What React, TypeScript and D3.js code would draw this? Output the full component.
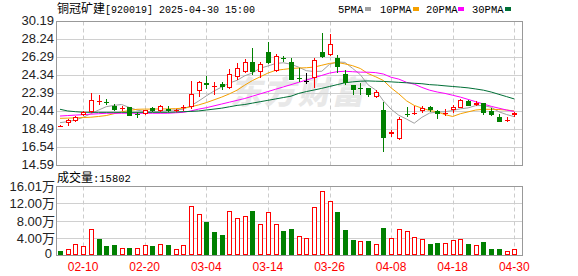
import React from 'react';
import * as d3 from 'd3';

const dates = [
  '02-05','02-06','02-07','02-10','02-11','02-12','02-13','02-14','02-17','02-18',
  '02-19','02-20','02-21','02-24','02-25','02-26','02-27','02-28','03-03','03-04',
  '03-05','03-06','03-07','03-10','03-11','03-12','03-13','03-14','03-17','03-18',
  '03-19','03-20','03-21','03-24','03-25','03-26','03-27','03-28','03-31','04-01',
  '04-02','04-03','04-07','04-08','04-09','04-10','04-11','04-14','04-15','04-16',
  '04-17','04-18','04-21','04-22','04-23','04-24','04-25','04-28','04-29','04-30',
];
const openP = [
  18.8,19.16,19.45,20.02,20.42,21.58,21.5,21.0,20.68,20.9,
  20.2,20.2,20.8,20.45,20.75,20.5,20.8,20.95,22.7,23.5,
  23.12,23.4,22.95,24.2,24.75,25.75,24.75,26.9,24.85,26.25,
  25.8,24.05,23.75,24.05,26.9,26.55,26.2,24.5,23.3,23.0,
  22.95,22.05,20.6,18.0,17.5,20.2,20.15,20.45,20.9,20.5,
  20.22,20.6,20.85,21.6,21.1,21.35,20.45,19.8,19.42,20.05,
];
const highP = [
  18.95,19.6,19.95,20.5,22.45,22.2,21.76,21.25,21.0,20.95,
  20.4,20.6,20.95,21.1,21.0,20.7,21.1,23.75,23.75,24.3,
  23.6,23.6,25.05,25.65,26.1,27.3,25.8,28.0,26.65,26.45,
  26.2,25.1,24.6,26.2,28.9,28.85,26.6,24.95,23.35,23.55,
  23.0,22.75,21.45,18.45,19.85,20.95,21.0,21.0,21.0,20.6,
  20.7,21.1,21.75,21.65,21.55,21.4,20.8,20.2,19.8,20.4,
];
const lowP = [
  18.78,18.87,19.33,19.95,20.3,21.1,21.14,20.5,20.5,19.9,
  19.7,20.1,20.4,20.4,20.4,20.4,20.5,20.75,22.05,22.9,
  22.2,22.75,22.85,23.85,24.6,24.4,24.05,25.55,24.75,25.85,
  23.85,23.65,23.4,22.95,26.2,26.45,24.6,23.3,22.2,22.2,
  22.05,21.9,16.0,17.65,17.35,19.85,20.1,20.3,20.4,19.6,
  19.95,20.25,20.8,21.0,21.0,20.1,20.0,19.25,19.25,19.85,
];
const closeP = [
  18.92,19.52,19.81,20.38,21.65,21.63,21.42,20.62,20.85,20.0,
  20.15,20.55,20.45,21.05,20.5,20.55,20.9,22.3,23.6,23.3,
  23.2,23.05,24.45,25.1,25.75,24.75,25.6,25.65,26.45,26.15,
  23.9,24.0,23.75,26.0,26.3,27.7,25.3,23.5,22.75,22.9,
  22.2,22.5,17.6,18.25,19.6,20.15,20.25,20.8,20.55,20.15,
  20.3,20.95,21.7,21.05,21.4,20.3,20.05,19.25,19.5,20.3,
];
// volume in 万
const volume = [
  1.0,1.6,2.7,2.1,6.1,3.75,2.1,2.35,1.8,1.65,
  1.65,2.5,2.1,2.7,2.35,1.55,2.5,11.4,9.6,7.7,
  5.4,4.7,10.3,8.8,9.1,10.3,7.4,10.0,7.4,5.6,
  6.1,4.45,4.15,11.2,15.0,12.6,10.1,5.85,3.5,3.3,
  3.3,2.75,6.3,4.15,6.25,5.8,4.4,3.9,2.6,2.8,
  3.0,3.7,3.9,2.6,2.5,3.05,1.4,1.4,1.1,1.58,
];
// 1 = red (up), 0 = green (down)
const volumeUp = [
  0,1,1,1,1,0,0,0,1,0,
  1,1,0,1,0,1,1,1,1,0,
  0,0,1,1,1,0,1,1,1,0,
  0,1,1,1,1,1,0,0,0,1,
  0,1,0,1,1,1,1,1,0,0,
  1,1,1,0,1,0,0,0,1,1,
];
const ma5 = [
  19.23,19.34,19.52,19.81,20.2,20.59,20.96,21.1,21.2,20.88,
  20.6,20.43,20.4,20.44,20.54,20.62,20.69,21.06,21.57,22.13,
  22.66,23.09,23.52,23.82,24.31,24.62,25.13,25.37,25.64,25.72,
  25.56,25.24,24.86,24.77,24.8,25.55,25.81,25.76,25.11,24.43,
  23.33,22.77,21.59,20.69,20.03,19.62,19.17,19.81,20.27,20.38,
  20.41,20.55,20.73,20.83,21.08,21.08,20.9,20.41,20.11,19.88,
];
const ma10 = [
  19.7,19.72,19.75,19.78,19.82,19.9,20.0,20.2,20.4,20.55,
  20.68,20.7,20.7,20.72,20.72,20.75,20.8,20.95,21.15,21.4,
  21.7,22.0,22.35,22.75,23.3,23.8,24.2,24.6,24.9,25.0,
  25.1,25.15,25.18,25.25,25.45,25.65,25.75,25.6,25.4,25.1,
  24.55,24.2,23.8,23.0,22.35,21.6,21.1,20.8,20.55,20.4,
  20.1,19.9,20.2,20.4,20.6,20.68,20.68,20.65,20.6,20.5,
];
const ma20 = [
  19.95,20.0,20.05,20.1,20.15,20.2,20.25,20.25,20.25,20.25,
  20.25,20.25,20.25,20.25,20.25,20.3,20.35,20.5,20.7,20.85,
  21.05,21.25,21.45,21.65,21.85,22.1,22.35,22.6,22.85,23.1,
  23.35,23.6,23.85,24.1,24.35,24.6,24.75,24.8,24.75,24.7,
  24.7,24.65,24.5,24.15,23.95,23.6,23.4,23.05,22.75,22.55,
  22.4,22.2,22.0,21.75,21.5,21.25,21.0,20.8,20.6,20.45,
];
const ma30 = [
  20.68,20.5,20.42,20.36,20.35,20.35,20.35,20.35,20.35,20.35,
  20.35,20.35,20.35,20.35,20.35,20.38,20.42,20.45,20.5,20.6,
  20.7,20.8,20.95,21.1,21.2,21.35,21.5,21.65,21.8,21.95,
  22.1,22.4,22.6,22.77,22.95,23.15,23.35,23.55,23.65,23.72,
  23.75,23.72,23.7,23.65,23.6,23.55,23.5,23.45,23.35,23.3,
  23.22,23.15,23.08,23.0,22.88,22.75,22.55,22.3,22.05,21.8,
];
const priceTicks = [30.19, 28.24, 26.29, 24.34, 22.39, 20.44, 18.49, 16.54, 14.59];
const volumeTicks = [0, 4, 8, 12, 16.01];
const volumeTickLabels = ['0', '4.00万', '8.00万', '12.00万', '16.01万'];
const xLabelDates = ['02-10', '02-20', '03-04', '03-14', '03-26', '04-08', '04-18', '04-30'];
const legendNames = ['5PMA', '10PMA', '20PMA', '30PMA'];
const stockName = '铜冠矿建';
const stockInfo = '[920019] 2025-04-30 15:00';
const lastVolume = '15802';

const RED = '#ff0000';
const GREEN = '#008000';
const MA_COLORS = ['#a0a0a0', '#f5a000', '#ff00ff', '#006f36'];
const MONO = '"Liberation Mono", monospace';
const SANS = '"Liberation Sans", "Noto Sans CJK SC", sans-serif';
const CJK = '"Noto Sans CJK SC", sans-serif';

export default function App() {
  const L = 56.5, R = 522.5;
  const pTop = 21.5, pBot = 165.5, vTop = 186.5, vBot = 255.5;
  const x = d3.scaleLinear().domain([0, dates.length - 1]).range([60, 514.3]);
  const yP = d3.scaleLinear().domain([14.59, 30.19]).range([pBot, pTop]);
  const yV = d3.scaleLinear().domain([0, 16.01]).range([vBot, vTop]);
  const crisp = (v: number) => Math.round(v - 0.5) + 0.5;

  const maSeries = [ma5, ma10, ma20, ma30];
  const line = d3.line<number>().x((_, i) => x(i)).y((v) => yP(v));

  const gridXs = xLabelDates.map((d) => Math.round(x(dates.indexOf(d))) + 0.5);

  const legendX = [338, 380, 426, 472];
  const legendMarkX = [365, 413, 458, 505];

  return (
    <svg width={578} height={276} style={{ position: 'absolute', left: 0, top: 0, background: '#fff' }}>
      <rect x={0} y={0} width={578} height={276} fill="#fff" />
      {/* title */}
      <text x={57} y={13} fill="#000">
        <tspan fontFamily={CJK} fontSize={12}>{stockName}</tspan>
        <tspan fontFamily={MONO} fontSize={10}>{stockInfo}</tspan>
      </text>
      {legendNames.map((n, k) => (
        <g key={n}>
          <text x={legendX[k]} y={13} fontFamily={MONO} fontSize={10.5} fill="#000">{n}</text>
          <rect x={legendMarkX[k]} y={7} width={6} height={4} fill={MA_COLORS[k]} />
        </g>
      ))}

      {/* watermark */}
      <text x={232} y={104} fontFamily={CJK} fontSize={32} fontWeight={900} fill="#e8e8e8"
        transform="skewX(-12) translate(20,0)" letterSpacing={2}>东方财富</text>

      {/* price grid */}
      {priceTicks.map((t) => (
        <line key={'pg' + t} x1={L} x2={R} y1={crisp(yP(t))} y2={crisp(yP(t))} stroke="#d0d0d0" />
      ))}
      {gridXs.map((gx) => (
        <line key={'pv' + gx} x1={gx} x2={gx} y1={pTop} y2={pBot} stroke="#cccccc" strokeDasharray="4,3" />
      ))}
      {/* volume grid */}
      {volumeTicks.slice(1, 4).map((t) => (
        <line key={'vg' + t} x1={L} x2={R} y1={crisp(yV(t))} y2={crisp(yV(t))} stroke="#d0d0d0" />
      ))}
      {gridXs.map((gx) => (
        <line key={'vv' + gx} x1={gx} x2={gx} y1={vTop} y2={vBot} stroke="#cccccc" strokeDasharray="4,3" />
      ))}

      {/* MA lines */}
      {maSeries.map((s, k) => (
        <path key={'ma' + k} d={line(s) || ''} fill="none" stroke={MA_COLORS[k]} strokeWidth={1} />
      ))}

      {/* candles */}
      {dates.map((d, i) => {
        const cx = Math.round(x(i));
        const o = yP(openP[i]), c = yP(closeP[i]), h = yP(highP[i]), l = yP(lowP[i]);
        const flat = openP[i] === closeP[i];
        const up = closeP[i] > openP[i];
        const color = flat ? '#000' : up ? RED : GREEN;
        const top = Math.round(Math.min(o, c));
        const bot = Math.round(Math.max(o, c));
        const hh = Math.round(h), ll = Math.round(l);
        const thin = bot - top < 2;
        return (
          <g key={'c' + d}>
            <line x1={cx + 0.5} x2={cx + 0.5} y1={hh} y2={top} stroke={color} />
            <line x1={cx + 0.5} x2={cx + 0.5} y1={bot} y2={ll} stroke={color} />
            {thin ? (
              <rect x={cx - 2} y={top} width={5} height={Math.max(1, bot - top)} fill={color} />
            ) : up ? (
              <rect x={cx - 1.5} y={top + 0.5} width={4} height={bot - top - 1} fill="#fff" stroke={RED} />
            ) : (
              <rect x={cx - 2} y={top} width={5} height={bot - top} fill={color} />
            )}
          </g>
        );
      })}

      {/* volume bars */}
      {dates.map((d, i) => {
        const cx = Math.round(x(i));
        const top = Math.round(yV(volume[i]));
        const base = 255;
        return volumeUp[i] ? (
          <rect key={'v' + d} x={cx - 1.5} y={top + 0.5} width={4} height={Math.max(0, base - top - 1)} fill="#fff" stroke={RED} />
        ) : (
          <rect key={'v' + d} x={cx - 2} y={top} width={5} height={base - top} fill={GREEN} />
        );
      })}

      {/* frames */}
      <rect x={L} y={pTop} width={R - L} height={pBot - pTop} fill="none" stroke="#999" />
      <rect x={L} y={vTop} width={R - L} height={vBot - vTop} fill="none" stroke="#999" />

      {/* price axis labels */}
      {priceTicks.map((t) => (
        <text key={'pl' + t} x={54} y={yP(t) - 1} textAnchor="end" dominantBaseline="central"
          fontFamily={SANS} fontSize={13} fill="#222">{t.toFixed(2)}</text>
      ))}
      {/* volume axis labels */}
      {volumeTicks.map((t, k) => (
        <text key={'vl' + t} x={k === 0 ? 52 : 55} y={k === 0 ? yV(t) - 2 : yV(t)} textAnchor="end" dominantBaseline="central"
          fontFamily={SANS} fontSize={13} fill="#222">{volumeTickLabels[k]}</text>
      ))}
      <text x={57} y={182} fill="#000">
        <tspan fontFamily={CJK} fontSize={12}>成交量</tspan>
        <tspan fontFamily={MONO} fontSize={10.5}>{':' + lastVolume}</tspan>
      </text>

      {/* x labels */}
      {xLabelDates.map((d) => (
        <text key={'xl' + d} x={x(dates.indexOf(d))} y={271} textAnchor="middle"
          fontFamily={SANS} fontSize={12} fill={RED}>{d}</text>
      ))}
    </svg>
  );
}
